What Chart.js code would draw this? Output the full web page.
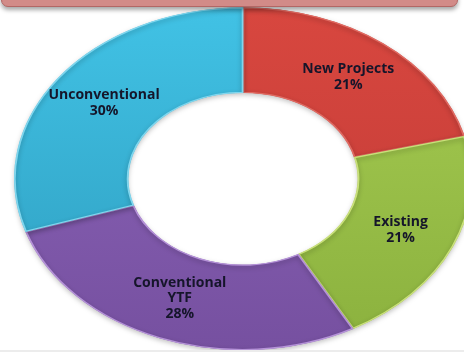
<!DOCTYPE html>
<html>
<head>
<meta charset="utf-8">
<script src="https://cdn.jsdelivr.net/npm/chart.js@4/dist/chart.umd.min.js"></script>
<style>
  html, body { margin: 0; padding: 0; background: #ffffff; }
  #wrap { position: relative; width: 464px; height: 352px; overflow: hidden; }
  #chart { position: absolute; left: 0; top: 0; }
  #banner {
    position: absolute; left: 1px; top: -12px; width: 455px; height: 17px;
    background: #d28b88; border: 1px solid #b26765; border-radius: 7px;
    box-shadow: 0 3px 4px rgba(0,0,0,0.35); z-index: 2;
  }
  #floor { position: absolute; left: 0; bottom: 0; width: 464px; height: 2px; background: #ececec; }
</style>
</head>
<body>
<div id="wrap">
  <canvas id="chart" width="464" height="352"></canvas>
  <div id="banner"></div>
  <div id="floor"></div>
</div>
<script>
// Segment names (multi-line names are arrays) and their shares
const categories = ['New Projects', 'Existing', ['Conventional', 'YTF'], 'Unconventional'];
const shares = [21, 21, 28, 30];

// Light (top) and dark (bottom) tones for each segment's shading
const topColors = ['#d8473f', '#a6cc52', '#8d66ba', '#41c2e5'];
const bottomColors = ['#bf3a36', '#8bb13e', '#7650a0', '#2e9dbf'];
const edgeColors = ['#e06a62', '#c9e07a', '#b592d8', '#7fd6ee'];

// Horizontal stretch that turns the round ring into a flattened ellipse
const STRETCH = 229 / 171.5;

const ellipsePlugin = {
  id: 'ellipse',
  beforeDatasetsDraw(chart) {
    const arc = chart.getDatasetMeta(0).data[0];
    if (!arc) return;
    const ctx = chart.ctx;
    ctx.save();
    ctx.translate(arc.x, arc.y);
    ctx.scale(STRETCH, 1);
    ctx.translate(-arc.x, -arc.y);
    ctx.shadowColor = 'rgba(0,0,0,0.25)';
    ctx.shadowBlur = 5;
    ctx.shadowOffsetY = 2;
  },
  afterDatasetsDraw(chart) {
    const ctx = chart.ctx;
    ctx.restore();
    const meta = chart.getDatasetMeta(0);
    const data = chart.data.datasets[0].data;
    const total = data.reduce((a, b) => a + b, 0);
    ctx.save();
    ctx.font = 'bold 14px "Open Sans", "DejaVu Sans", sans-serif';
    ctx.fillStyle = '#15152a';
    ctx.textAlign = 'center';
    ctx.textBaseline = 'middle';
    meta.data.forEach((el, i) => {
      const p = el.getProps(['x', 'y', 'startAngle', 'endAngle', 'innerRadius', 'outerRadius'], true);
      const mid = (p.startAngle + p.endAngle) / 2;
      const r = (p.innerRadius + p.outerRadius) / 2;
      const lx = p.x + STRETCH * r * Math.cos(mid);
      const ly = p.y + r * Math.sin(mid);
      const name = chart.data.labels[i];
      const lines = (Array.isArray(name) ? name.slice() : [name]);
      lines.push(Math.round(data[i] / total * 100) + '%');
      const lh = 15.5;
      const y0 = ly - (lines.length - 1) * lh / 2;
      lines.forEach((t, k) => ctx.fillText(t, lx, y0 + k * lh));
    });
    ctx.restore();
  }
};

// Vertical light-to-dark gradient per segment
function shade(context) {
  const i = context.dataIndex;
  const chart = context.chart;
  const area = chart.chartArea;
  if (!area || i === undefined) return topColors[i || 0];
  const g = chart.ctx.createLinearGradient(0, area.top, 0, area.bottom);
  g.addColorStop(0, topColors[i]);
  g.addColorStop(1, bottomColors[i]);
  return g;
}

new Chart(document.getElementById('chart'), {
  type: 'doughnut',
  data: {
    labels: categories,
    datasets: [{
      data: shares,
      backgroundColor: shade,
      borderColor: edgeColors,
      borderWidth: 1,
      borderAlign: 'inner'
    }]
  },
  options: {
    responsive: false,
    animation: false,
    cutout: '50%',
    rotation: 0,
    layout: { padding: { top: 7, bottom: 1.5, left: 71.5, right: 49.5 } },
    plugins: { legend: { display: false }, tooltip: { enabled: false } }
  },
  plugins: [ellipsePlugin]
});
</script>
</body>
</html>
